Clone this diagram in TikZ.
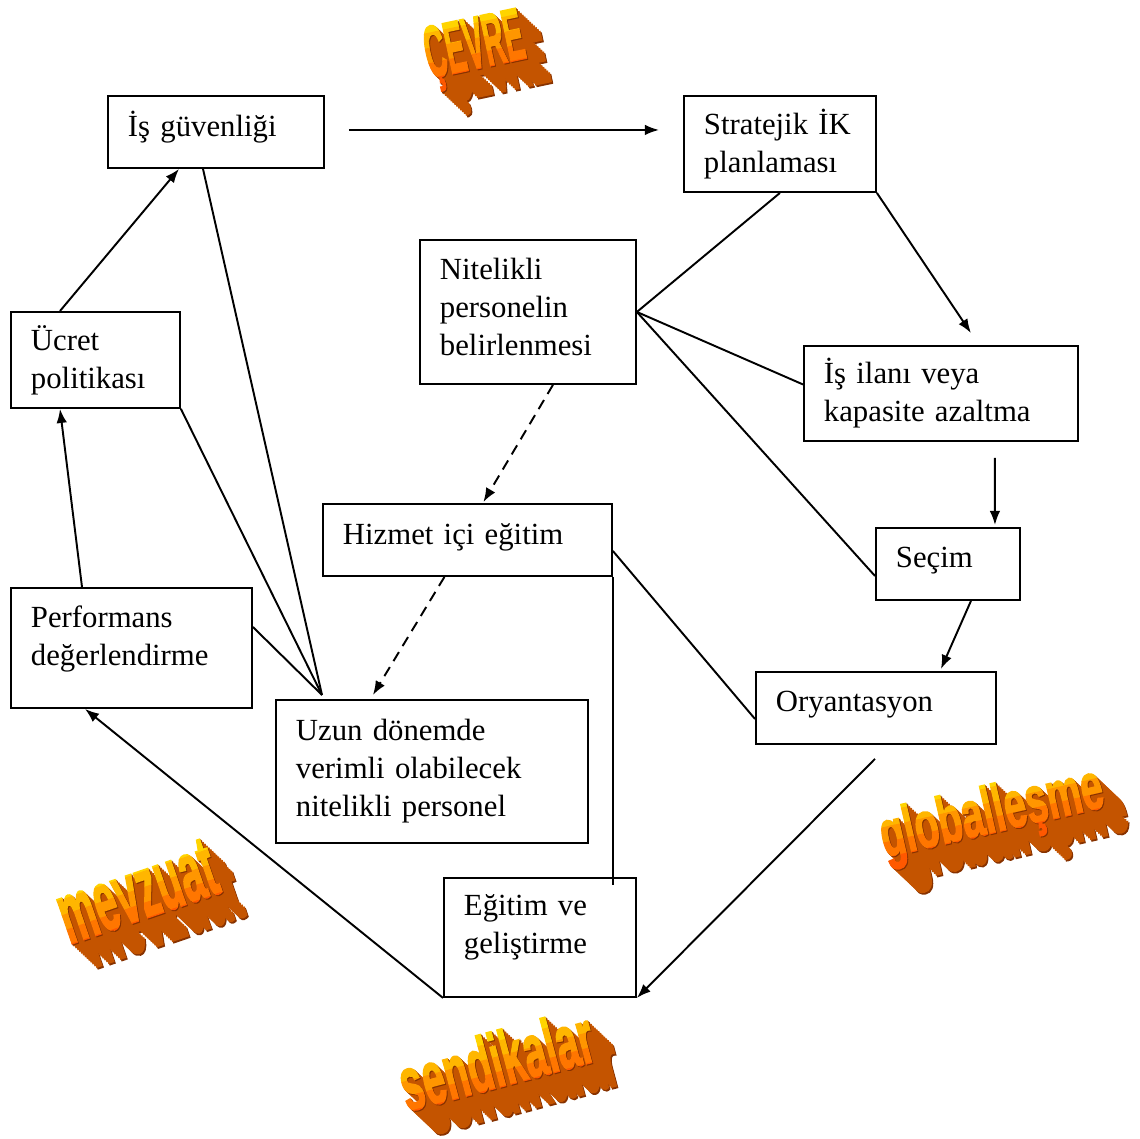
\documentclass[tikz,border=0pt]{standalone}
\usepackage{fontspec}
\setmainfont{Liberation Serif}
\newfontfamily\wafont{Liberation Sans}[BoldFeatures={FakeBold=2.5}]
\usetikzlibrary{arrows.meta,calc}

\newcommand{\kutufont}{\fontsize{17.5}{21.6}\selectfont}

% word art colours
\definecolor{waA}{RGB}{255,240,0}
\definecolor{waB}{RGB}{255,212,0}
\definecolor{waC}{RGB}{255,182,0}
\definecolor{waD}{RGB}{255,150,0}
\definecolor{waE}{RGB}{255,118,0}
\definecolor{waF}{RGB}{255,88,0}
\definecolor{waSide}{RGB}{196,84,0}
\definecolor{waDark}{RGB}{135,50,0}

\tikzset{
  kutu/.style={draw, line width=1.1pt, anchor=north west, align=left,
    inner xsep=0.4cm, inner ysep=0pt, font=\kutufont},
  ok/.style={line width=1.1pt, -{Latex[length=8pt,width=6pt]}},
  kesik/.style={ok, dash pattern=on 6pt off 4pt},
  cizgi/.style={line width=1.1pt},
  wa front/.style={font=\wafont\bfseries\fontsize{30}{30}\selectfont,
    inner sep=0pt, anchor=base},
  wa side/.style={wa front, text=waSide},
  wa dark/.style={wa front, text=waDark},
}

% #1 name, #2 baseline middle, #3 angle, #4 xscale, #5 yscale, #6 text
\newcommand{\wordart}[6]{%
  \begin{scope}[shift={#2}]
    \node[wa dark, rotate=#3, xscale=#4, yscale=#5] (#1-back) at (26,25) {#6};
    \foreach \i in {13,...,1}
      \node[wa side, rotate=#3, xscale=#4, yscale=#5] (#1-\i) at (\i*1.9,\i*1.8) {#6};
    \node[wa dark, rotate=#3, xscale=#4, yscale=#5] (#1-rim) at (1,1) {#6};
  \end{scope}
  \begin{scope}[shift={#2}, rotate=#3]
    \foreach \y/\c in {-75/waA,-60/waB,-45/waC,-30/waD,-15/waE,0/waF} {
      \begin{scope}
        \clip (-300,\y) rectangle (300,\y+15.5);
        \node[wa front, rotate=#3, xscale=#4, yscale=#5, text=\c] (#1-top\y) at (0,0) {#6};
      \end{scope}
    }
  \end{scope}}

\begin{document}
\begin{tikzpicture}[x=0.02cm, y=-0.02cm]
    \useasboundingbox (0,0) rectangle (1140,1139);

    % boxes
    \node[kutu, text width=3.52cm, minimum height=1.44cm, text depth=9.4pt] (guv) at (107,95) {İş~güvenliği};
    \node[kutu, text width=3.04cm, minimum height=1.92cm] (strat) at (683,95) {Stratejik~İK\\planlaması};
    \node[kutu, text width=3.52cm, minimum height=2.88cm, text depth=48.8pt] (nit) at (419,239) {Nitelikli\\personelin\\belirlenmesi};
    \node[kutu, text width=2.58cm, minimum height=1.92cm] (ucret) at (10,311) {Ücret\\politikası};
    \node[kutu, text width=4.68cm, minimum height=1.90cm] (ilan) at (803,345) {İş~ilanı~veya\\kapasite~azaltma};
    \node[kutu, text width=4.98cm, minimum height=1.44cm, text depth=7.2pt] (hizmet) at (322,503) {Hizmet~içi~eğitim};
    \node[kutu, text width=2.08cm, minimum height=1.44cm, text depth=7.2pt] (secim) at (875,527) {Seçim};
    \node[kutu, text width=4.02cm, minimum height=2.40cm, text depth=35.6pt] (perf) at (10,587) {Performans\\değerlendirme};
    \node[kutu, text width=4.00cm, minimum height=1.44cm, text depth=7.2pt] (orya) at (755,671) {Oryantasyon};
    \node[kutu, text width=5.44cm, minimum height=2.86cm] (uzun) at (275,699) {Uzun~dönemde\\verimli~olabilecek\\nitelikli~personel};
    \node[kutu, text width=3.04cm, minimum height=2.38cm, text depth=36.8pt] (egitim) at (443,877) {Eğitim~ve\\geliştirme};

    % main cycle
    \draw[ok] ($(guv.east)+(24,-2)$) -- ($(strat.west |- guv.east)+(-24,-2)$);
    \draw[ok] (strat.south east) -- ($(ilan.north)+(30,-12)$);
    \draw[ok] ($(ilan.south)+(54,16)$) -- ($(secim.north)+(47,-2)$);
    \draw[ok] ($(secim.south)+(23,0)$) -- ($(orya.north)+(65,-2)$);
    \draw[ok] ($(orya.south)+(-1,14)$) -- (egitim.south east);
    \draw[ok] (egitim.south west) -- ($(perf.south west)+(75,0)$);
    \draw[ok] ($(perf.north west)+(72,0)$) -- ($(ucret.south west)+(50,0)$);
    \draw[ok] ($(ucret.north west)+(50,0)$) -- ($(guv.south west)+(72,0)$);

    % training path
    \draw[kesik] ($(nit.south)+(25,0)$) -- ($(hizmet.north)+(16,-1)$);
    \draw[kesik] ($(hizmet.south)+(-23,0)$) -- ($(uzun.north)+(-59,-4)$);

    % plain links
    \draw[cizgi] (strat.south) -- (nit.east);
    \draw[cizgi] (nit.east) -- ($(ilan.west)+(0,-9)$);
    \draw[cizgi] (nit.east) -- ($(secim.west)+(0,12)$);
    \draw[cizgi] ($(hizmet.east)+(0,11)$) -- ($(orya.west)+(0,11)$);
    \draw[cizgi] (hizmet.south east) -- ($(hizmet.south east |- egitim.north)+(0,8)$);
    \coordinate (birlesim) at ($(uzun.north west)+(47,-4)$);
    \draw[cizgi] ($(guv.south west)+(96,0)$) -- (birlesim);
    \draw[cizgi] (ucret.south east) -- (birlesim);
    \draw[cizgi] ($(perf.east)+(0,-21)$) -- (birlesim);

    % environment
    \wordart{cevre}{(479,68)}{12}{0.55}{1.4}{ÇEVRE}
    \wordart{global}{(996,832)}{13}{0.745}{1.26}{globalleşme}
    \wordart{mevzuat}{(146,918)}{19}{0.77}{1.65}{mevzuat}
    \wordart{sendika}{(503,1086)}{15}{0.76}{1.45}{sendikalar}

\end{tikzpicture}
\end{document}
